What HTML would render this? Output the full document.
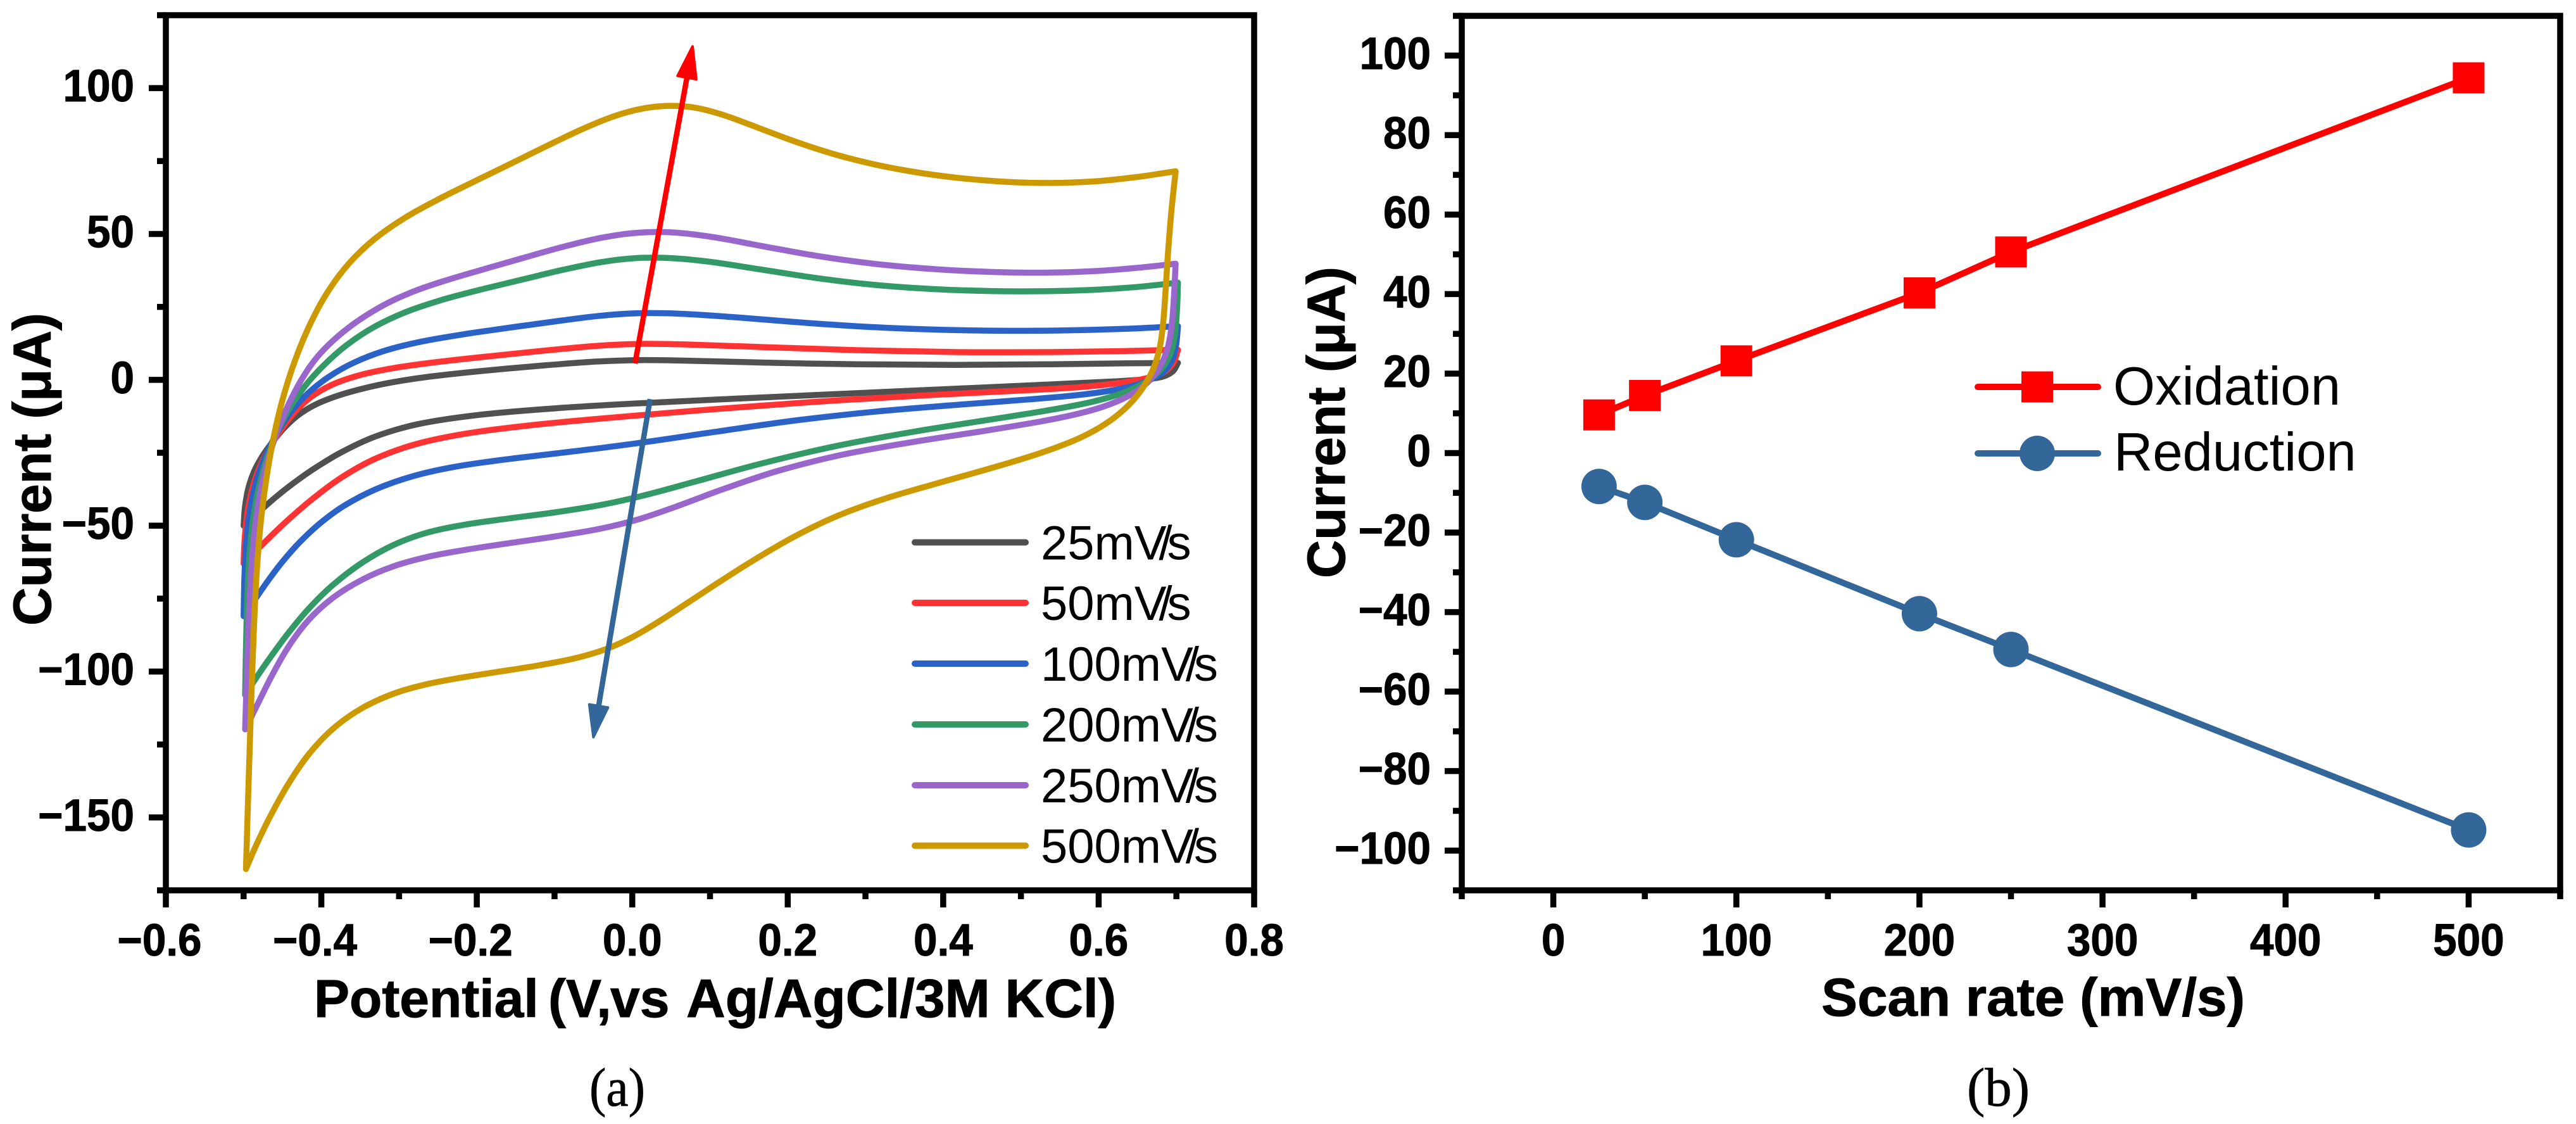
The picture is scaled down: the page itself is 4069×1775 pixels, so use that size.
<!DOCTYPE html>
<html lang="en">
<head>
<meta charset="utf-8">
<title>Cyclic voltammetry and scan rate charts</title>
<style>
html,body{margin:0;padding:0;background:#fff;}
svg{display:block;font-family:"Liberation Sans",Arial,sans-serif;}
</style>
</head>
<body>
<svg id="figure" xmlns="http://www.w3.org/2000/svg" width="4069" height="1775" viewBox="0 0 4069 1775">
  <rect x="0" y="0" width="4069" height="1775" fill="#ffffff"/>
  <g id="panelA"></g>
  <g id="panelB"></g>

  <text transform="translate(80,741) rotate(-90)" text-anchor="middle" font-size="84" font-weight="700" stroke="#000" stroke-width="1" textLength="494" lengthAdjust="spacingAndGlyphs">Current (μA)</text>
  <text y="1606" font-size="84" font-weight="700" stroke="#000" stroke-width="1"><tspan x="496">Potential</tspan><tspan x="866">(V,</tspan><tspan x="964">vs</tspan><tspan x="1084" font-size="85.5">Ag/AgCl/3M KCl)</tspan></text>
  <text x="931" y="1746" font-family="'Liberation Serif',serif" font-size="86" stroke="#000" stroke-width="0.8" textLength="88" lengthAdjust="spacingAndGlyphs">(a)</text>

  <text transform="translate(2124,667) rotate(-90)" text-anchor="middle" font-size="84" font-weight="700" stroke="#000" stroke-width="1" textLength="492" lengthAdjust="spacingAndGlyphs">Current (μA)</text>
  <text x="2877" y="1604" font-size="84" font-weight="700" stroke="#000" stroke-width="1" textLength="669" lengthAdjust="spacingAndGlyphs">Scan rate (mV/s)</text>
  <text x="3107" y="1746" font-family="'Liberation Serif',serif" font-size="86" stroke="#000" stroke-width="0.8" textLength="99" lengthAdjust="spacingAndGlyphs">(b)</text>

  <g font-size="76" stroke-linecap="round">
    <g><line x1="1445" x2="1620" y1="856.5" y2="856.5" stroke="#505050" stroke-width="10"/><text x="1644" y="883.5">25mV<tspan dx="-12">/</tspan><tspan dx="-8">s</tspan></text></g>
    <g><line x1="1445" x2="1620" y1="952" y2="952" stroke="#ff3333" stroke-width="10"/><text x="1644" y="979">50mV<tspan dx="-12">/</tspan><tspan dx="-8">s</tspan></text></g>
    <g><line x1="1445" x2="1620" y1="1048" y2="1048" stroke="#2b62c8" stroke-width="10"/><text x="1644" y="1075">100mV<tspan dx="-12">/</tspan><tspan dx="-8">s</tspan></text></g>
    <g><line x1="1445" x2="1620" y1="1144" y2="1144" stroke="#339966" stroke-width="10"/><text x="1644" y="1171">200mV<tspan dx="-12">/</tspan><tspan dx="-8">s</tspan></text></g>
    <g><line x1="1445" x2="1620" y1="1240" y2="1240" stroke="#9966cc" stroke-width="10"/><text x="1644" y="1267">250mV<tspan dx="-12">/</tspan><tspan dx="-8">s</tspan></text></g>
    <g><line x1="1445" x2="1620" y1="1335.5" y2="1335.5" stroke="#cc9900" stroke-width="10"/><text x="1644" y="1362.5">500mV<tspan dx="-12">/</tspan><tspan dx="-8">s</tspan></text></g>
  </g>

  <g font-size="85" stroke-linecap="round">
    <g><line x1="3124" x2="3314" y1="611" y2="611" stroke="#ff0000" stroke-width="10"/><rect x="3193" y="586.5" width="50" height="49" fill="#ff0000"/><text x="3338" y="639">Oxidation</text></g>
    <g><line x1="3124" x2="3314" y1="716" y2="716" stroke="#336699" stroke-width="10"/><ellipse cx="3218" cy="716" rx="28" ry="28" fill="#336699"/><text x="3339" y="743">Reduction</text></g>
  </g>
</svg>

<script>
/* ---------- Panel (a): cyclic voltammograms, [potential V, current uA] ---------- */
const cv25Up = [[-.5,-50],[-.5,-44.3],[-.496,-36.9],[-.488,-30.6],[-.477,-26.3],[-.466,-22.5],[-.45,-16.3],[-.433,-11.9],[-.412,-8.2],[-.384,-5.6],[-.349,-2.6],[-.308,-.7],[-.268,1.2],[-.227,2.4],[-.086,5.7],[-.034,6.7],[0,7],[.053,7],[.157,5.7],[.287,5.1],[.417,4.9],[.546,5.1],[.676,6.1],[.702,5.8]];
const cv25Down = [[.702,5.8],[.699,1.8],[.688,.7],[.666,0],[.612,-.7],[.546,-1.5],[.417,-3],[.261,-4.9],[.131,-6.5],[.001,-8],[-.086,-9.2],[-.227,-11.9],[-.282,-14.4],[-.336,-18.8],[-.376,-24.4],[-.417,-31.3],[-.444,-36.9],[-.461,-40.6],[-.471,-43],[-.5,-50]];
const cv50Up = [[-.5,-63],[-.5,-55.6],[-.497,-45.6],[-.49,-35.6],[-.479,-28.1],[-.466,-22.5],[-.45,-16.3],[-.436,-10.6],[-.417,-5.6],[-.39,-.7],[-.349,2.4],[-.308,4.3],[-.254,6.1],[-.227,7],[-.086,10.7],[-.034,12.3],[.001,12.6],[.053,12.6],[.157,11.3],[.287,9.9],[.417,9.1],[.546,9.2],[.676,10.1],[.702,10.3]];
const cv50Down = [[.702,10.3],[.7,5],[.69,2.2],[.671,.3],[.625,-1.4],[.571,-2.9],[.546,-3.2],[.417,-4.6],[.261,-6.7],[.131,-9.2],[.001,-12.7],[-.138,-14.9],[-.227,-18.2],[-.282,-21.3],[-.336,-26.3],[-.376,-32.5],[-.417,-41.9],[-.444,-48],[-.463,-53],[-.475,-56.2],[-.5,-63]];
const cv100Up = [[-.5,-81],[-.5,-65.6],[-.497,-53],[-.493,-43],[-.485,-33],[-.471,-24.4],[-.455,-16.9],[-.439,-9.4],[-.417,-3.8],[-.39,1.8],[-.363,6.1],[-.322,10.5],[-.282,13],[-.227,15.5],[-.164,17.6],[-.086,20.5],[-.034,22.6],[.001,23.2],[.053,23.4],[.131,21.7],[.209,19.5],[.287,18.2],[.365,17.2],[.443,16.7],[.521,16.6],[.598,17],[.676,17.8],[.702,18.4]];
const cv100Down = [[.702,18.4],[.701,10.9],[.697,5.8],[.688,2.2],[.666,-1.4],[.625,-4],[.571,-5.4],[.546,-6.1],[.417,-8.6],[.313,-10.5],[.209,-13],[.105,-18],[.001,-22.6],[-.086,-24.8],[-.19,-27.9],[-.227,-29.4],[-.282,-32],[-.336,-36.9],[-.376,-43],[-.404,-49.3],[-.431,-55.6],[-.453,-63],[-.471,-69.3],[-.482,-74.3],[-.5,-81]];
const cv200Up = [[-.498,-108],[-.497,-78],[-.494,-59],[-.489,-43],[-.477,-30.6],[-.461,-19.4],[-.444,-9.4],[-.424,-2],[-.398,5],[-.372,12],[-.336,18.8],[-.294,23.8],[-.242,28.2],[-.19,31.3],[-.138,34.4],[-.086,38.2],[-.034,41.3],[.001,42.1],[.043,42.5],[.095,41.3],[.157,38.2],[.235,34.4],[.313,31.9],[.391,30.7],[.469,30.3],[.521,30],[.598,30.7],[.65,31.3],[.702,33.3]];
const cv200Down = [[.702,33.3],[.702,25.3],[.699,14.5],[.696,8],[.685,3.7],[.666,-.7],[.639,-4.7],[.598,-8],[.546,-9.9],[.469,-13.6],[.365,-17.3],[.261,-21.7],[.157,-28.6],[.079,-35.4],[.001,-41],[-.034,-42.8],[-.086,-45.4],[-.164,-47.6],[-.227,-49.6],[-.268,-51.8],[-.308,-55.6],[-.349,-61.8],[-.39,-70.5],[-.417,-77.8],[-.444,-86.7],[-.466,-95.5],[-.484,-101.6],[-.498,-108]];
const cv250Up = [[-.498,-119.8],[-.494,-78],[-.49,-59],[-.485,-43],[-.474,-30.6],[-.461,-19.4],[-.444,-8.2],[-.425,1.7],[-.406,8.3],[-.393,12],[-.357,20.7],[-.32,26.3],[-.284,30.7],[-.242,34.3],[-.19,37.8],[-.138,41.9],[-.086,46.3],[-.034,49.4],[0,50.9],[.048,51.6],[.095,50],[.157,46.3],[.235,41.9],[.313,39.2],[.391,37.5],[.469,36.7],[.531,36.3],[.598,36.9],[.65,38.2],[.699,39.8]];
const cv250Down = [[.699,39.8],[.697,28.9],[.695,18],[.692,10.1],[.682,4.3],[.666,-1.5],[.644,-5.8],[.612,-9.4],[.571,-12],[.546,-13.4],[.469,-17.3],[.365,-21],[.261,-24.8],[.183,-30.4],[.105,-38.5],[.053,-44.1],[.001,-49.1],[-.034,-51],[-.086,-53.5],[-.164,-56],[-.227,-58.6],[-.268,-60.6],[-.308,-63],[-.349,-67.8],[-.39,-74.3],[-.417,-81],[-.444,-90.5],[-.466,-101.6],[-.485,-113.6],[-.498,-119.8]];
const cv500Up = [[-.497,-167.7],[-.49,-103],[-.485,-65.6],[-.481,-53],[-.473,-37],[-.465,-22],[-.453,-7],[-.436,7],[-.413,21.5],[-.393,31],[-.367,40.6],[-.336,48.8],[-.294,56],[-.253,61.8],[-.206,67.5],[-.159,73.7],[-.112,79.9],[-.065,86.2],[-.034,89.9],[.001,92.6],[.017,93.6],[.053,94.5],[.079,94.3],[.115,91.8],[.157,86.8],[.209,81.2],[.261,76.8],[.313,73.3],[.365,70.8],[.417,69],[.469,67.7],[.541,66.8],[.598,67.5],[.65,69.3],[.699,71.5]];
const cv500Down = [[.699,71.5],[.692,58],[.689,43.4],[.686,28.9],[.683,18],[.681,10.9],[.674,4.3],[.661,-2.2],[.644,-8],[.623,-13.4],[.596,-17.7],[.563,-21.8],[.546,-23.4],[.469,-30.4],[.391,-35.4],[.313,-41],[.261,-46],[.209,-52.9],[.157,-61.6],[.115,-68.5],[.069,-76.8],[.027,-84.4],[.001,-88.7],[-.034,-93],[-.065,-95.6],[-.117,-98.1],[-.19,-100.6],[-.227,-102.3],[-.268,-104.2],[-.308,-106.6],[-.349,-111.4],[-.39,-119],[-.417,-127.2],[-.444,-137.8],[-.471,-151.6],[-.49,-162.7],[-.497,-167.7]];
const cvRates = ['25','50','100','200','250','500'];
const cvColors = ['#505050','#ff3333','#2b62c8','#339966','#9966cc','#cc9900'];
const cvBranches = [[cv25Up,cv25Down],[cv50Up,cv50Down],[cv100Up,cv100Down],[cv200Up,cv200Down],[cv250Up,cv250Down],[cv500Up,cv500Down]];
const arrowIncrease = [[.0035,5.6],[.0776,114.3]];
const arrowDecrease = [[.023,-6.6],[-.05,-122.5]];
const cvXMajor = [-0.6,-0.4,-0.2,0,0.2,0.4,0.6,0.8];
const cvXLabels = ['−0.6','−0.4','−0.2','0.0','0.2','0.4','0.6','0.8'];
const cvXMinor = [-0.5,-0.3,-0.1,0.1,0.3,0.5,0.7];
const cvYMajor = [100,50,0,-50,-100,-150];
const cvYLabels = ['100','50','0','−50','−100','−150'];
const cvYMinor = [125,75,25,-25,-75,-125,-175];

/* ---------- Panel (b): peak current vs scan rate ---------- */
const scanRates = [25,50,100,200,250,500];
const oxidationCurrent = [9.6,14.5,23.2,40.3,50.6,94.4];
const reductionCurrent = [-8.4,-12.4,-21.8,-40.4,-49.4,-94.8];
const rateXMajor = [0,100,200,300,400,500];
const rateXLabels = ['0','100','200','300','400','500'];
const rateXMinor = [-50,50,150,250,350,450,550];
const rateYMajor = [100,80,60,40,20,0,-20,-40,-60,-80,-100];
const rateYLabels = ['100','80','60','40','20','0','−20','−40','−60','−80','−100'];
const rateYMinor = [110,90,70,50,30,10,-10,-30,-50,-70,-90,-110];

const NS = 'http://www.w3.org/2000/svg';
function make(tag, attrs, parent){
  const el = document.createElementNS(NS, tag);
  for (const k in attrs) el.setAttribute(k, attrs[k]);
  parent.appendChild(el);
  return el;
}
function linearScale(d0,d1,r0,r1){ return v => r0 + (v-d0)*(r1-r0)/(d1-d0); }

/* Light relaxation of hand-read points so that reading noise does not show as lumps. */
function relax(pts){
  return pts.map((p,i)=>{
    if (i===0 || i===pts.length-1) return p;
    const a=pts[i-1], b=pts[i+1];
    return [(a[0]+2*p[0]+b[0])/4,(a[1]+2*p[1]+b[1])/4];
  });
}

function smoothBranch(raw, first){
  const pts = relax(relax(raw));
  let d = first ? 'M' + pts[0][0].toFixed(1) + ' ' + pts[0][1].toFixed(1) : '';
  const dir = pts.map((p,i)=>{
    const a = pts[Math.max(i-1,0)], b = pts[Math.min(i+1,pts.length-1)];
    const dx = b[0]-a[0], dy = b[1]-a[1], len = Math.hypot(dx,dy) || 1;
    return [dx/len, dy/len];
  });
  for (let i=0;i<pts.length-1;i++){
    const p=pts[i], q=pts[i+1];
    const h=Math.hypot(q[0]-p[0],q[1]-p[1])/3;
    d += 'C'+(p[0]+dir[i][0]*h).toFixed(1)+' '+(p[1]+dir[i][1]*h).toFixed(1)+' '+(q[0]-dir[i+1][0]*h).toFixed(1)+' '+(q[1]-dir[i+1][1]*h).toFixed(1)+' '+q[0].toFixed(1)+' '+q[1].toFixed(1);
  }
  return d;
}

function drawAxes(parent, box, sx, sy, cfg){
  const stroke = 9.5;
  const frame = make('rect',{x:box.l,y:box.t,width:box.r-box.l,height:box.b-box.t,fill:'none',stroke:'#000','stroke-width':stroke},parent);
  
  
  cfg.xMajor.forEach((v,i)=>{
    const t = make('line',{x1:sx(v),x2:sx(v),y1:box.b,y2:box.b+27,stroke:'#000','stroke-width':stroke},parent);
    
    
    const neg = cfg.xLabels[i].charAt(0) === '−';
    const lab = make('text',{transform:'translate('+(sx(v)-(neg?10:0))+',1509) scale(0.95,1)','text-anchor':'middle','font-size':71,'font-weight':700,stroke:'#000','stroke-width':1},parent);
    lab.textContent = cfg.xLabels[i];
    
    
  });
  cfg.xMinor.forEach(v=>{
    const t = make('line',{x1:sx(v),x2:sx(v),y1:box.b,y2:box.b+14,stroke:'#000','stroke-width':stroke},parent);
    
    
  });
  cfg.yMajor.forEach((v,i)=>{
    const t = make('line',{x1:box.l-27,x2:box.l,y1:sy(v),y2:sy(v),stroke:'#000','stroke-width':stroke},parent);
    
    
    const lab = make('text',{transform:'translate('+cfg.yLabelX+','+(sy(v)+21)+') scale(0.95,1)','text-anchor':'end','font-size':71,'font-weight':700,stroke:'#000','stroke-width':1},parent);
    lab.textContent = cfg.yLabels[i];
    
    
  });
  cfg.yMinor.forEach(v=>{
    const t = make('line',{x1:box.l-14,x2:box.l,y1:sy(v),y2:sy(v),stroke:'#000','stroke-width':stroke},parent);
    
    
  });
}

function drawArrow(parent, pair, sx, sy, color, name){
  const x0=sx(pair[0][0]), y0=sy(pair[0][1]), x1=sx(pair[1][0]), y1=sy(pair[1][1]);
  const len=Math.hypot(x1-x0,y1-y0), ux=(x1-x0)/len, uy=(y1-y0)/len;
  const headLen=50, half=15;
  const bx=x1-ux*headLen, by=y1-uy*headLen;
  const shaft = make('line',{x1:x0,y1:y0,x2:bx,y2:by,stroke:color,'stroke-width':8.5},parent);
  
  
  const pts=[[x1,y1],[bx-uy*half,by+ux*half],[bx+uy*half,by-ux*half]].map(p=>p[0].toFixed(1)+','+p[1].toFixed(1)).join(' ');
  const head = make('polygon',{points:pts,fill:color,stroke:color,'stroke-width':4,'stroke-linejoin':'round'},parent);
  
  
}

/* Panel (a) */
(function(){
  const g = document.getElementById('panelA');
  const box = {l:262,r:1981,t:24,b:1406};
  const sx = linearScale(-0.6,0.8,box.l,box.r);
  const sy = linearScale(-175,125,box.b,box.t);
  cvBranches.forEach((br,i)=>{
    const up = br[0].map(p=>[sx(p[0]),sy(p[1])]);
    const down = br[1].map(p=>[sx(p[0]),sy(p[1])]);
    const path = make('path',{d:smoothBranch(up,true)+smoothBranch(down,false),fill:'none',stroke:cvColors[i],'stroke-width':9.5,'stroke-linejoin':'round','stroke-linecap':'round'},g);
    
    
  });
  drawArrow(g, arrowIncrease, sx, sy, '#ff0000', 'increase-arrow');
  drawArrow(g, arrowDecrease, sx, sy, '#336699', 'decrease-arrow');
  drawAxes(g, box, sx, sy, {id:'panel-a',xMajor:cvXMajor,xLabels:cvXLabels,xMinor:cvXMinor,yMajor:cvYMajor,yLabels:cvYLabels,yMinor:cvYMinor,yLabelX:212});
})();

/* Panel (b) */
(function(){
  const g = document.getElementById('panelB');
  const box = {l:2309,r:4044,t:25,b:1406};
  const sx = linearScale(-50,550,box.l,box.r);
  const sy = linearScale(-110,110,box.b,box.t);
  const oxLine = make('polyline',{points:scanRates.map((r,i)=>sx(r)+','+sy(oxidationCurrent[i])).join(' '),fill:'none',stroke:'#ff0000','stroke-width':10},g);
  
  
  const redLine = make('polyline',{points:scanRates.map((r,i)=>sx(r)+','+sy(reductionCurrent[i])).join(' '),fill:'none',stroke:'#336699','stroke-width':10},g);
  
  
  scanRates.forEach((r,i)=>{
    const sq = make('rect',{x:sx(r)-25,y:sy(oxidationCurrent[i])-24.5,width:50,height:49,fill:'#ff0000'},g);
    
    
    const c = make('ellipse',{cx:sx(r),cy:sy(reductionCurrent[i]),rx:28,ry:28,fill:'#336699'},g);
    
    
  });
  drawAxes(g, box, sx, sy, {id:'panel-b',xMajor:rateXMajor,xLabels:rateXLabels,xMinor:rateXMinor,yMajor:rateYMajor,yLabels:rateYLabels,yMinor:rateYMinor,yLabelX:2260});
})();
</script>
</body>
</html>
